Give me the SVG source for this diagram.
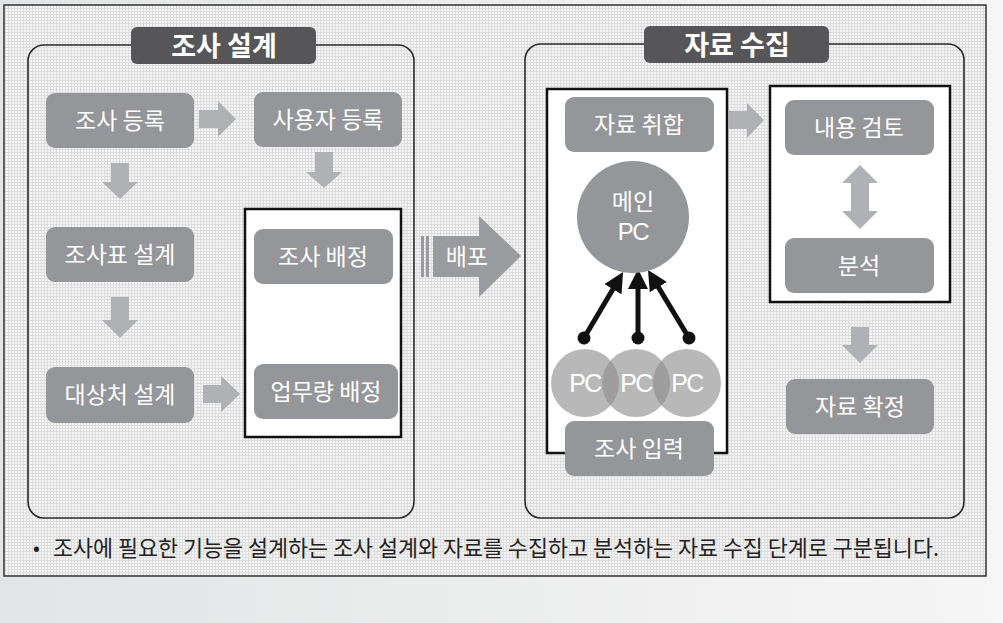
<svg xmlns="http://www.w3.org/2000/svg" width="1003" height="623" viewBox="0 0 1003 623">
<defs>
<linearGradient id="bg" x1="0" y1="0" x2="1" y2="0">
<stop offset="0" stop-color="#e3e4e5"/>
<stop offset="1" stop-color="#f6f6f6"/>
</linearGradient>
<pattern id="grid" width="3" height="3" patternUnits="userSpaceOnUse">
<rect width="3" height="3" fill="#f4f4f4"/>
<path d="M2.5 0V3M0 2.5H3" stroke="#dedede" stroke-width="1"/>
</pattern>
<marker id="head" viewBox="0 0 20 20" refX="2" refY="10" markerWidth="20" markerHeight="20" markerUnits="userSpaceOnUse" orient="auto">
<path d="M0,0 L20,10 L0,20 z" fill="#111"/>
</marker>
<marker id="dot" viewBox="-7 -7 14 14" refX="0" refY="0" markerWidth="14" markerHeight="14" markerUnits="userSpaceOnUse" orient="auto">
<circle r="6.5" fill="#111"/>
</marker>
<style>
.panel{fill:url(#grid);stroke:#2a2a2a;stroke-width:1.6}
.tab{fill:#565658}
.tabt{font-family:"Noto Sans CJK KR","Noto Sans",sans-serif;font-weight:bold;font-size:27px;fill:#fff;text-anchor:middle}
.node{fill:#959699}
.nt{font-family:"Noto Sans CJK KR","Noto Sans",sans-serif;font-size:23px;fill:#fff;text-anchor:middle}
.wbox{fill:#fff;stroke:#111;stroke-width:2.5}
.garrow{fill:#b0b1b4}
.conn{stroke:#111;stroke-width:5;fill:none;marker-end:url(#head);marker-start:url(#dot)}
.pc{fill:#8c8c8c;fill-opacity:0.62}
.pct{font-family:"Liberation Sans","Noto Sans",sans-serif;font-size:25px;fill:#fff;text-anchor:middle;letter-spacing:-1.5px}
</style>
</defs>
<rect width="1003" height="623" fill="url(#bg)"/>
<rect x="4" y="5" width="982" height="571" fill="url(#grid)" stroke="#333" stroke-width="1.5"/>

<g id="panel-design">
<rect class="panel" x="28" y="45" width="386" height="473" rx="16"/>
<rect class="tab" x="131" y="27" width="185" height="37" rx="6"/>
<text class="tabt" x="224" y="56">조사 설계</text>
</g>
<g id="panel-collect">
<rect class="panel" x="525" y="44" width="439" height="474" rx="16"/>
<rect class="tab" x="644" y="26" width="185" height="37" rx="6"/>
<text class="tabt" x="737" y="55">자료 수집</text>
</g>

<g id="box-assign"><rect class="wbox" x="245" y="209" width="156" height="228"/></g>
<g id="box-gather"><rect class="wbox" x="547" y="89" width="180" height="364"/></g>
<g id="box-review"><rect class="wbox" x="770" y="86" width="180" height="216"/></g>

<g id="connectors">
<polygon class="garrow" points="199,110 218,110 218,101 236,119 218,137 218,128 199,128"/>
<polygon class="garrow" points="111,163 129,163 129,182 138,182 120,199 102,182 111,182"/>
<polygon class="garrow" points="315,152 333,152 333,172 342,172 324,188 306,172 315,172"/>
<polygon class="garrow" points="111,297 129,297 129,320 138,320 120,338 102,320 111,320"/>
<polygon class="garrow" points="203,385 221,385 221,376 240,394 221,412 221,403 203,403"/>
<polygon class="garrow" points="729,111 747,111 747,103 764,120 747,138 747,129 729,129"/>
<polygon class="garrow" points="860,165 878,183 869,183 869,211 878,211 860,229 842,211 851,211 851,183 842,183"/>
<polygon class="garrow" points="851,327 869,327 869,345 878,345 860,363 842,345 851,345"/>
<g id="distribute">
<rect x="421" y="236" width="3" height="41" fill="#9a9b9e"/>
<rect x="426" y="236" width="3" height="41" fill="#9a9b9e"/>
<polygon points="433,236 479,236 479,216 521,256 479,297 479,277 433,277" fill="#9a9b9e"/>
<text class="nt" x="467" y="265">배포</text>
</g>
<line class="conn" x1="584" y1="338" x2="613.9" y2="287.5"/>
<line class="conn" x1="638" y1="338" x2="638" y2="287"/>
<line class="conn" x1="689" y1="338" x2="657.3" y2="285.4"/>
</g>

<g id="n-survey-reg"><rect class="node" x="46" y="93" width="148" height="55" rx="9"/><text class="nt" x="120" y="129">조사 등록</text></g>
<g id="n-user-reg"><rect class="node" x="254" y="92" width="148" height="55" rx="9"/><text class="nt" x="328" y="128">사용자 등록</text></g>
<g id="n-form"><rect class="node" x="46" y="227" width="148" height="55" rx="9"/><text class="nt" x="120" y="263">조사표 설계</text></g>
<g id="n-target"><rect class="node" x="46" y="367" width="148" height="56" rx="9"/><text class="nt" x="120" y="403">대상처 설계</text></g>
<g id="n-assign"><rect class="node" x="254" y="229" width="139" height="55" rx="9"/><text class="nt" x="323" y="265">조사 배정</text></g>
<g id="n-workload"><rect class="node" x="254" y="364" width="144" height="55" rx="9"/><text class="nt" x="326" y="400">업무량 배정</text></g>

<g id="n-gather"><rect class="node" x="565" y="97" width="149" height="55" rx="9"/><text class="nt" x="639" y="133">자료 취합</text></g>
<g id="n-mainpc"><circle class="node" cx="633" cy="217" r="56"/><text class="nt" x="633" y="210">메인</text><text class="pct" x="633" y="240" style="font-size:24px">PC</text></g>
<g id="n-pcs">
<circle class="pc" cx="585" cy="383" r="34"/>
<circle class="pc" cx="636" cy="383" r="34"/>
<circle class="pc" cx="687" cy="383" r="34"/>
<text class="pct" x="585" y="392">PC</text>
<text class="pct" x="636" y="392">PC</text>
<text class="pct" x="687" y="392">PC</text>
</g>
<g id="n-input"><rect class="node" x="565" y="421" width="149" height="55" rx="9"/><text class="nt" x="639" y="457">조사 입력</text></g>
<g id="n-review"><rect class="node" x="785" y="100" width="149" height="55" rx="9"/><text class="nt" x="859" y="136">내용 검토</text></g>
<g id="n-analysis"><rect class="node" x="785" y="238" width="149" height="55" rx="9"/><text class="nt" x="859" y="274">분석</text></g>
<g id="n-confirm"><rect class="node" x="786" y="379" width="148" height="55" rx="9"/><text class="nt" x="860" y="415">자료 확정</text></g>

<g id="caption">
<text x="33" y="555" font-family="Noto Sans CJK KR, sans-serif" font-size="20" fill="#222">•</text>
<text x="53" y="556" font-family="Noto Sans CJK KR, sans-serif" font-size="22" fill="#222" textLength="886" lengthAdjust="spacingAndGlyphs">조사에 필요한 기능을 설계하는 조사 설계와 자료를 수집하고 분석하는 자료 수집 단계로 구분됩니다.</text>
</g>
</svg>
